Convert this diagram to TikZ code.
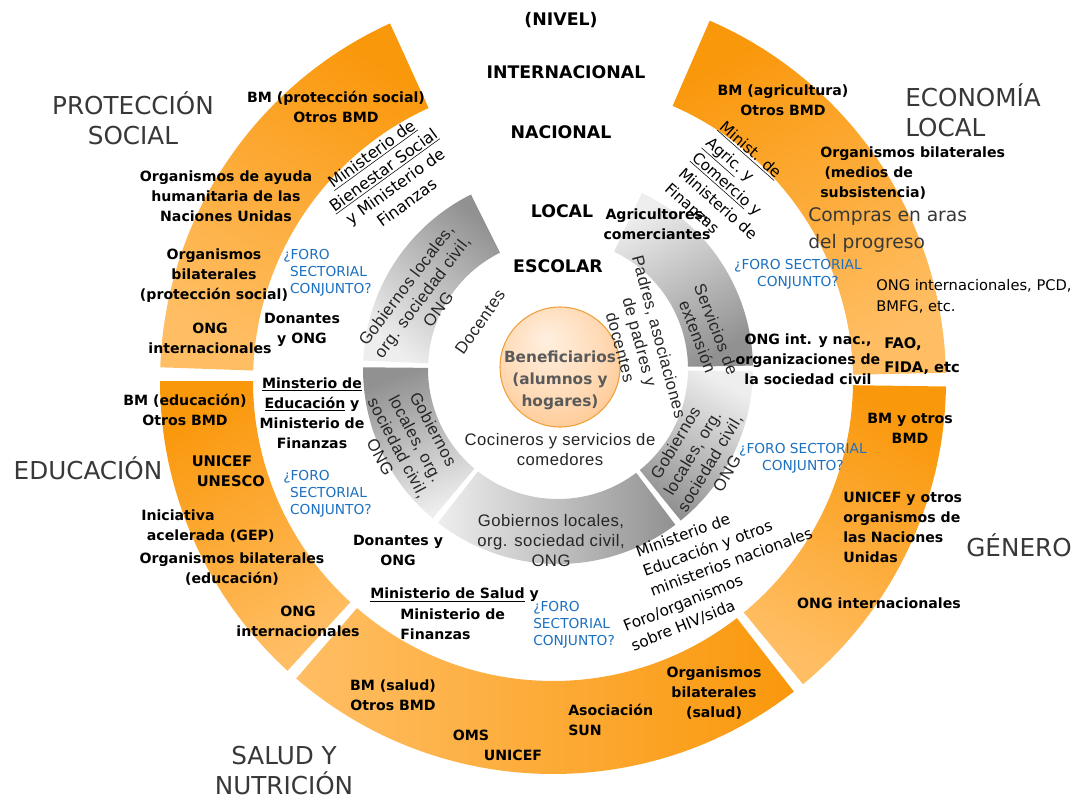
\documentclass[tikz,border=0pt]{standalone}
\usepackage{fontspec}
\setmainfont{DejaVu Sans}
\newfontfamily\ringfont[LetterSpace=3]{Liberation Sans}
\usetikzlibrary{calc}

\definecolor{ringorange}{RGB}{250,152,12}
\definecolor{ringorangelt}{RGB}{255,190,100}
\definecolor{ringgray}{RGB}{145,145,145}
\definecolor{ringgraylt}{RGB}{238,238,238}
\definecolor{foroblue}{RGB}{28,112,192}
\definecolor{titlegray}{RGB}{56,56,56}
\definecolor{benefgray}{RGB}{90,90,90}
\definecolor{benefedge}{RGB}{240,160,60}

\pgfdeclareradialshading{escolarring}{\pgfpoint{0bp}{0bp}}{color(0bp)=(white); color(25bp)=(white); color(27bp)=(white!94!black); color(40bp)=(white!85!black); color(50bp)=(white!75!black)}
\pgfdeclareradialshading{benefball}{\pgfpoint{-6bp}{12bp}}{color(0bp)=(white!88!orange); color(20bp)=(white!72!orange); color(40bp)=(white!48!orange); color(50bp)=(white!30!orange)}

% ring segment: centre, inner r, outer r, from, to
\newcommand\ringseg[5]{($(#1)+(#4:#3)$) arc[start angle=#4, end angle=#5, radius=#3] -- ($(#1)+(#5:#2)$) arc[start angle=#5, end angle=#4, radius=#2] -- cycle}

\begin{document}
\begin{tikzpicture}[x=0.75pt, y=0.75pt, inner sep=0pt]
    \tikzstyle{lbl}=[font=\bfseries\fontsize{10.6}{15}\selectfont, align=center]
    \tikzstyle{plain}=[font=\fontsize{11.5}{15.5}\selectfont, align=left]
    \tikzstyle{foro}=[text=foroblue, font=\fontsize{10.3}{12.8}\selectfont, align=left]
    \tikzstyle{sector}=[text=titlegray, font=\fontsize{18.5}{22.5}\selectfont, align=center]
    \tikzstyle{level}=[font=\bfseries\fontsize{13}{15}\selectfont]
    \tikzstyle{ringtxt}=[text=black!85, font=\ringfont\fontsize{12.5}{15}\selectfont, align=center]

    \useasboundingbox (0,0) rectangle (1073,-801);

    \coordinate (O) at (553,-381);  % sector ring centre
    \coordinate (M) at (558,-369);  % local and school rings centre

    % Sector ring
    \foreach \a/\b/\sa in {114.5/178/-30, 180/227.5/30, 229.2/307.8/-90, 309.5/359.2/-30, 1.2/66.5/30}
        \shade[top color=ringorange, bottom color=ringorangelt, shading angle=\sa] \ringseg{O}{300}{393}{\a}{\b};

    % Local ring
    \foreach \a/\b/\sa in {116.5/177.5/-40, 179.5/230/20, 232/307/-90, 309/359.3/150, 1/64.5/-150}
        \shade[top color=ringgray, bottom color=ringgraylt, shading angle=\sa] \ringseg{M}{130}{195}{\a}{\b};

    % School ring
    \begin{scope}
        \clip \ringseg{M}{64}{124}{115}{418};
        \shade[shading=escolarring] (M) circle (124);
    \end{scope}

    % Beneficiaries
    \node[circle, minimum size=90pt, shading=benefball, draw=benefedge, line width=0.8pt] (benef) at (560,-367) {};
    \node[text=benefgray, font=\bfseries\fontsize{11.5}{16.5}\selectfont, align=center] (benefText) at (560,-380) {Beneficiarios\\(alumnos y\\hogares)};

    % Levels
    \node[level] (nivel) at (561,-20) {(NIVEL)};
    \node[level] (internacional) at (566,-72) {INTERNACIONAL};
    \node[level] (nacional) at (561,-132) {NACIONAL};
    \node[level] (local) at (562,-211) {LOCAL};
    \node[level, fill=white, inner sep=2pt] (escolar) at (558,-266) {ESCOLAR};

    % Sectors
    \node[sector] (proteccion) at (133,-118) {PROTECCIÓN\\SOCIAL};
    \node[sector, align=left, anchor=west] (economia) at (905,-110) {ECONOMÍA\\LOCAL};
    \node[sector] (educacion) at (88,-468) {EDUCACIÓN};
    \node[sector] (genero) at (1019,-545) {GÉNERO};
    \node[sector] (salud) at (284,-771) {SALUD Y\\NUTRICIÓN};

    % School ring texts
    \node[ringtxt, rotate=55] (docentes) at (480,-322) {Docentes};
    \node[ringtxt, rotate=-75] (padres) at (640,-342) {Padres, asociaciones\\de padres y\\docentes};
    \node[ringtxt] (cocineros) at (560,-450) {Cocineros y servicios de\\comedores};

    % Local ring texts
    \node[ringtxt, rotate=53] (gobTL) at (422,-297) {Gobiernos locales,\\org. sociedad civil,\\ONG};
    \node[ringtxt, rotate=-62] (gobL) at (407,-443) {Gobiernos\\locales, org.\\sociedad civil,\\ONG};
    \node[ringtxt] (gobB) at (551,-541) {Gobiernos locales,\\org. sociedad civil,\\ONG};
    \node[ringtxt, rotate=59] (gobBR) at (701,-458) {Gobiernos\\locales, org.\\sociedad civil,\\ONG};
    \node[ringtxt, rotate=-69] (servicios) at (707,-333) {Servicios de\\extensión};
    \node[lbl] (agricultores) at (657,-224) {Agricultores,\\comerciantes};

    % Proteccion social
    \node[lbl] (bmPS) at (336,-107) {BM (protección social)\\Otros BMD};
    \node[lbl] (ayudaPS) at (226,-196) {Organismos de ayuda\\humanitaria de las\\Naciones Unidas};
    \node[lbl] (bilatPS) at (214,-276) {Organismos\\bilaterales\\(protección social)};
    \node[lbl] (ongPS) at (210,-338) {ONG\\internacionales};
    \node[lbl] (donantesPS) at (302,-330) {Donantes\\y ONG};
    \node[foro, anchor=west] (foroPS) at (283,-273) {¿FORO\\\hspace*{0.5em}SECTORIAL\\\hspace*{0.5em}CONJUNTO?};
    \node[plain, align=center, font=\fontsize{12}{15}\selectfont, rotate=36] (minPS) at (389,-178) {\underline{Ministerio de}\\\underline{Bienestar Social}\\y Ministerio de\\Finanzas};

    % Economia local
    \node[lbl] (bmEL) at (783,-100) {BM (agricultura)\\Otros BMD};
    \node[plain, rotate=-41.5] (minEL) at (732,-188) {\underline{Minist. de}\\\underline{Agric.} y\\\underline{Comercio} y\\Ministerio de\\Finanzas};
    \node[lbl, align=left, anchor=west] (bilatEL) at (820,-173) {Organismos bilaterales\\\hspace*{0.3em}(medios de\\subsistencia)};
    \node[text=titlegray, font=\fontsize{14}{20}\selectfont, align=left, anchor=west] (compras) at (808,-230) {Compras en aras\\del progreso};
    \node[foro, align=center] (foroEL) at (798,-274) {¿FORO SECTORIAL\\CONJUNTO?};
    \node[font=\fontsize{11}{15.5}\selectfont, align=left, anchor=west] (ongEL) at (876,-296) {ONG internacionales, PCD,\\BMFG, etc.};
    \node[lbl] (ongnacEL) at (808,-359) {ONG int. y nac.,\\organizaciones de\\la sociedad civil};
    \node[lbl, align=left, anchor=west, font=\bfseries\fontsize{11}{18}\selectfont] (faoEL) at (884,-356) {FAO,\\FIDA, etc};

    % Educacion
    \node[lbl] (bmED) at (185,-410) {BM (educación)\\Otros BMD};
    \node[lbl] (minED) at (312,-413) {\underline{Minsterio de}\\\underline{Educación} y\\Ministerio de\\Finanzas};
    \node[lbl, font=\bfseries\fontsize{11}{15}\selectfont] (unicefED) at (222,-471) {UNICEF\\\hspace*{1.2em}UNESCO};
    \node[foro, anchor=west] (foroED) at (283,-494) {¿FORO\\\hspace*{0.5em}SECTORIAL\\\hspace*{0.5em}CONJUNTO?};
    \node[lbl, align=left, anchor=west] (gepED) at (141,-526) {Iniciativa\\\hspace*{0.4em}acelerada (GEP)};
    \node[lbl] (bilatED) at (232,-569) {Organismos bilaterales\\(educación)};
    \node[lbl] (ongED) at (298,-621) {ONG\\internacionales};
    \node[lbl] (donantesED) at (398,-550) {Donantes y\\ONG};

    % Salud y nutricion
    \node[lbl, anchor=west] (minsaSN) at (370,-595) {\underline{Ministerio de Salud} y};
    \node[lbl, align=left, anchor=west] (minfinSN) at (400,-624) {Ministerio de\\Finanzas};
    \node[foro, anchor=west] (foroSN) at (533,-625) {¿FORO\\SECTORIAL\\CONJUNTO?};
    \node[plain, rotate=22] (hivSN) at (687,-613) {Foro/organismos\\sobre HIV/sida};
    \node[plain, rotate=20] (minedSN) at (724,-542) {Ministerio de\\Educación y otros\\ministerios nacionales};
    \node[lbl] (bmSN) at (393,-695) {BM (salud)\\Otros BMD};
    \node[lbl] (omsSN) at (471,-735) {OMS};
    \node[lbl] (unicefSN) at (513,-755) {UNICEF};
    \node[lbl, align=left, anchor=west] (sunSN) at (568,-720) {Asociación\\SUN};
    \node[lbl] (bilatSN) at (714,-693) {Organismos\\bilaterales\\(salud)};

    % Genero
    \node[lbl] (bmGE) at (910,-428) {BM y otros\\BMD};
    \node[foro, align=center] (foroGE) at (803,-458) {¿FORO SECTORIAL\\CONJUNTO?};
    \node[lbl, align=left, anchor=west] (unicefGE) at (843,-527) {UNICEF y otros\\organismos de\\las Naciones\\Unidas};
    \node[lbl] (ongGE) at (879,-603) {ONG internacionales};
\end{tikzpicture}
\end{document}
